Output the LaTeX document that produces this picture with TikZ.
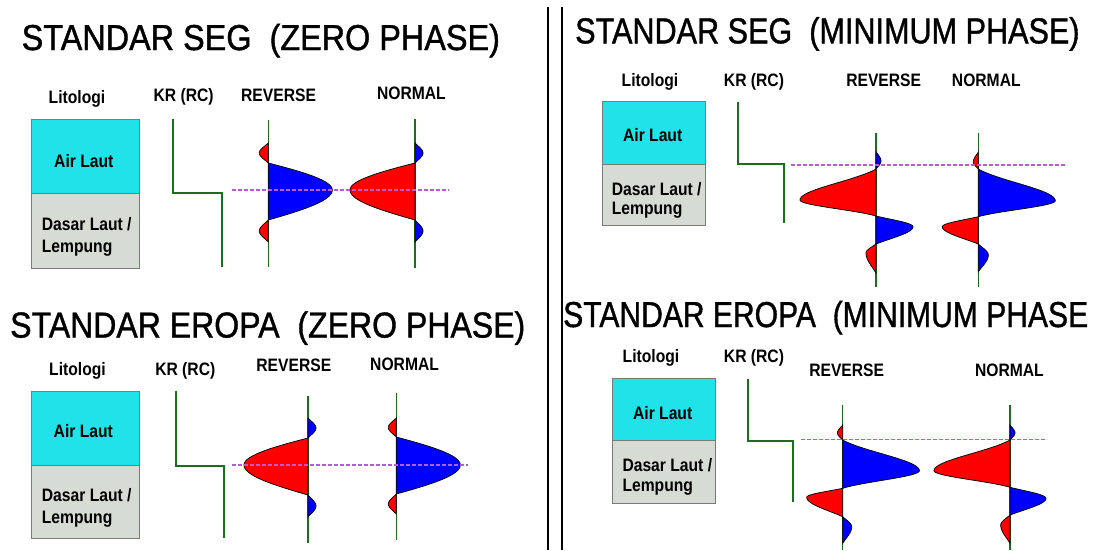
\documentclass[tikz,border=0pt]{standalone}
\usepackage{graphicx}
\usepackage{fontspec}
\setmainfont{Liberation Sans}[FakeStretch=0.87]
\newfontfamily\judulfont{Liberation Sans}[FakeBold=1.2]

\definecolor{hijau}{HTML}{1A701A}
\definecolor{ungu}{HTML}{B85AD0}
\definecolor{cyanlaut}{HTML}{1FE3E8}
\definecolor{abu}{HTML}{D6DBD3}
\definecolor{tepi}{HTML}{7A7A7A}

% lobe: sumbu x, y atas, y puncak, y bawah, amplitudo, warna, bentuk
\newcommand\lobe[7]{%
  \filldraw[fill=#6,draw=black,line width=.7pt]
    plot[domain=-1:0,samples=30] ({#1+(#5)*(1-(\x)*(\x))*exp(-(#7)*(\x)*(\x))},{#3+(\x)*(#3-#2)})
    -- plot[domain=0:1,samples=30] ({#1+(#5)*(1-(\x)*(\x))*exp(-(#7)*(\x)*(\x))},{#3+(\x)*(#4-#3)})
    -- cycle;}

\begin{document}
\begin{tikzpicture}[x=1pt,y=-1pt,
    judul/.style={anchor=base west,inner sep=0,font=\judulfont\fontsize{36}{40}\selectfont},
    kolom/.style={anchor=base,inner sep=0,font=\fontsize{18}{20}\selectfont\bfseries},
    lapis/.style={inner sep=0,font=\fontsize{18}{20}\selectfont\bfseries},
    air/.style={fill=cyanlaut,draw=tepi,line width=1pt},
    dasar/.style={fill=abu,draw=tepi,line width=1pt},
    kr/.style={draw=hijau,line width=2.2pt},
    sumbu/.style={draw=hijau,line width=1.5pt},
    garis/.style={draw=ungu,dash pattern=on 4pt off 2pt,line width=1.2pt}]
    \useasboundingbox[fill=white] (0,0) rectangle (1098,550);

    % pembatas
    \draw[line width=1.5pt] (548,7) -- (548,550);
    \draw[line width=1.5pt] (562,7) -- (562,550);

    % SEG zero phase
    \node[judul] (t1) at (21.5,50) {\scalebox{0.9}[1]{STANDAR SEG~~(ZERO PHASE)}};
    \node[kolom] (lit1) at (77,103) {Litologi};
    \node[kolom] (kr1) at (183.7,101) {KR (RC)};
    \node[kolom] (rev1) at (278.6,101.7) {REVERSE};
    \node[kolom] (nor1) at (411.4,99.3) {NORMAL};
    \draw[air] (31,119.3) rectangle (139.3,193.3);
    \draw[dasar] (31,193.3) rectangle (139.3,268.3);
    \node[lapis] (air1) at (83.8,160.7) {Air Laut};
    \node[lapis,anchor=base west] (das1) at (41.7,230.5) {Dasar Laut /};
    \node[lapis,anchor=base west] (lem1) at (41.7,252.5) {Lempung};
    \draw[kr] (173.3,119.3) -- (173.3,193.3) -- (221.7,193.3) -- (221.7,266.7);
    \draw[sumbu] (268.3,120) -- (268.3,267);
    \draw[sumbu] (415,119) -- (415,268);
    \lobe{268.3}{143}{153}{163}{-9}{red}{0.5}
    \lobe{268.3}{163}{190}{220}{64}{blue}{0.2}
    \lobe{268.3}{220}{231}{242}{-9}{red}{0.5}
    \lobe{415}{143}{153}{163}{8}{blue}{0.5}
    \lobe{415}{163}{190}{220}{-65}{red}{0.2}
    \lobe{415}{220}{231}{242}{8}{blue}{0.5}
    \draw[garis] (231.7,190) -- (448,190);

    % SEG minimum phase
    \node[judul] (t2) at (575,43.3) {\scalebox{0.85}[1]{STANDAR SEG~~(MINIMUM PHASE)}};
    \node[kolom] (lit2) at (650,86.7) {Litologi};
    \node[kolom] (kr2) at (754,86.7) {KR (RC)};
    \node[kolom] (rev2) at (883.7,86.7) {REVERSE};
    \node[kolom] (nor2) at (986.3,86.7) {NORMAL};
    \draw[air] (602.3,101.7) rectangle (705.7,164);
    \draw[dasar] (602.3,164) rectangle (705.7,225.7);
    \node[lapis] (air2) at (652.7,135.3) {Air Laut};
    \node[lapis,anchor=base west] (das2) at (611.7,195) {Dasar Laut /};
    \node[lapis,anchor=base west] (lem2) at (611.7,214) {Lempung};
    \draw[kr] (738.3,101.7) -- (738.3,164) -- (784,164) -- (784,223.3);
    \draw[sumbu] (876,133) -- (876,287);
    \draw[sumbu] (978.3,133) -- (978.3,287);
    \lobe{876}{151.7}{161}{169}{5}{blue}{0.5}
    \lobe{876}{169}{200}{216}{-76}{red}{1.0}
    \lobe{876}{216}{226.7}{244}{37}{blue}{0.5}
    \lobe{876}{244}{253}{273}{-10}{red}{0.5}
    \lobe{978.3}{152}{162}{169}{-5}{red}{0.5}
    \lobe{978.3}{169}{200.7}{216.7}{77}{blue}{1.0}
    \lobe{978.3}{216.7}{226.7}{244}{-36}{red}{0.5}
    \lobe{978.3}{244}{255}{271.7}{10}{blue}{0.5}
    \draw[garis] (790.7,165) -- (1066.7,165);

    % Eropa zero phase
    \node[judul] (t3) at (10,337.5) {\scalebox{0.89}[1]{STANDAR EROPA~~(ZERO PHASE)}};
    \node[kolom] (lit3) at (77.5,375) {Litologi};
    \node[kolom] (kr3) at (185.3,375) {KR (RC)};
    \node[kolom] (rev3) at (293.8,371.7) {REVERSE};
    \node[kolom] (nor3) at (404.6,370) {NORMAL};
    \draw[air] (31,391) rectangle (139.3,465.7);
    \draw[dasar] (31,465.7) rectangle (139.3,538.3);
    \node[lapis] (air3) at (83.3,430.7) {Air Laut};
    \node[lapis,anchor=base west] (das3) at (41.7,501.5) {Dasar Laut /};
    \node[lapis,anchor=base west] (lem3) at (41.7,523.3) {Lempung};
    \draw[kr] (176,391) -- (176,465.7) -- (224.3,465.7) -- (224.3,538.3);
    \draw[sumbu] (308,396) -- (308,543);
    \draw[sumbu] (396.3,393) -- (396.3,540);
    \lobe{308}{418}{428}{438}{8}{blue}{0.5}
    \lobe{308}{438}{465}{495}{-64}{red}{0.2}
    \lobe{308}{495}{506}{517}{8}{blue}{0.5}
    \lobe{396.3}{418}{427.5}{437}{-8}{red}{0.5}
    \lobe{396.3}{437}{465}{494}{64}{blue}{0.2}
    \lobe{396.3}{494}{504}{514}{-8}{red}{0.5}
    \draw[garis] (231.5,465) -- (468.3,465);

    % Eropa minimum phase
    \node[judul] (t4) at (563,327) {\scalebox{0.835}[1]{STANDAR EROPA~~(MINIMUM PHASE}};
    \node[kolom] (lit4) at (651,362.7) {Litologi};
    \node[kolom] (kr4) at (754,362.7) {KR (RC)};
    \node[kolom] (rev4) at (846.7,376) {REVERSE};
    \node[kolom] (nor4) at (1009.4,376) {NORMAL};
    \draw[air] (612.3,378.3) rectangle (715.3,440.7);
    \draw[dasar] (612.3,440.7) rectangle (715.3,503.3);
    \node[lapis] (air4) at (662.7,412.7) {Air Laut};
    \node[lapis,anchor=base west] (das4) at (622.3,471.7) {Dasar Laut /};
    \node[lapis,anchor=base west] (lem4) at (622.3,491) {Lempung};
    \draw[kr] (747.7,379) -- (747.7,440.7) -- (792.7,440.7) -- (792.7,501.7);
    \draw[sumbu] (842.7,405) -- (842.7,550);
    \draw[sumbu] (1010,405) -- (1010,550);
    \lobe{842.7}{425}{433}{440}{-5.3}{red}{0.5}
    \lobe{842.7}{440}{470.7}{488.3}{76.7}{blue}{1.0}
    \lobe{842.7}{488.3}{497.3}{516.7}{-36}{red}{0.5}
    \lobe{842.7}{516.7}{526.7}{543.3}{9}{blue}{0.5}
    \lobe{1010}{425}{433}{440}{5}{blue}{0.5}
    \lobe{1010}{440}{470.7}{487.3}{-76}{red}{1.0}
    \lobe{1010}{487.3}{498.3}{515}{36}{blue}{0.5}
    \lobe{1010}{515}{525}{543.3}{-9.3}{red}{0.5}
    \draw[garis] (800.7,439.3) -- (1046.7,439.3);
\end{tikzpicture}
\end{document}
